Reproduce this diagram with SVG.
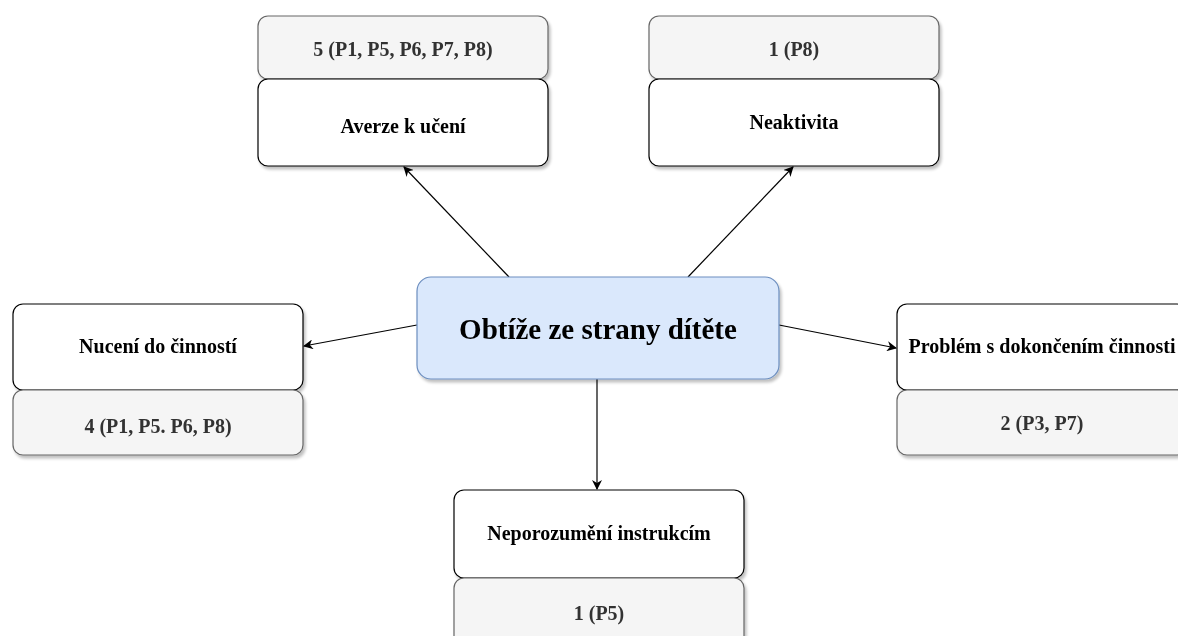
<svg xmlns="http://www.w3.org/2000/svg" width="1178" height="636" viewBox="0 0 1178 636">
  <style>
    .main { fill: #ffffff; stroke: #000000; stroke-width: 1.2; }
    .count { fill: #f5f5f5; stroke: #666666; stroke-width: 1.2; }
    .root { fill: #dae8fc; stroke: #6c8ebf; stroke-width: 1.2; }
    .lbl { font-family: "Liberation Serif", "Times New Roman", serif; font-weight: bold; font-size: 20px; text-anchor: middle; fill: #000000; }
    .cnt { font-family: "Liberation Serif", "Times New Roman", serif; font-weight: bold; font-size: 20px; text-anchor: middle; fill: #333333; }
    .title { font-family: "Liberation Serif", "Times New Roman", serif; font-weight: bold; font-size: 29px; text-anchor: middle; fill: #000000; }
    .edge { stroke: #000000; stroke-width: 1.2; fill: none; marker-end: url(#arrow); }
  </style>
  <defs>
    <filter id="shadow" x="-10%" y="-10%" width="125%" height="130%">
      <feGaussianBlur in="SourceAlpha" stdDeviation="1.5"/>
      <feOffset dx="2" dy="3" result="blur"/>
      <feComponentTransfer><feFuncA type="linear" slope="0.25"/></feComponentTransfer>
      <feMerge><feMergeNode/><feMergeNode in="SourceGraphic"/></feMerge>
    </filter>
    <marker id="arrow" viewBox="0 0 10 10" refX="9" refY="5" markerWidth="10" markerHeight="10" markerUnits="userSpaceOnUse" orient="auto">
      <path d="M0,0 L10,5 L0,10 L3,5 Z" fill="#000000"/>
    </marker>
  </defs>

  <g id="connectors">
    <line class="edge" x1="509" y1="277" x2="404" y2="167"/>
    <line class="edge" x1="688" y1="277" x2="793" y2="167"/>
    <line class="edge" x1="417" y1="325" x2="304" y2="346"/>
    <line class="edge" x1="779" y1="325" x2="896" y2="348"/>
    <line class="edge" x1="597" y1="379" x2="597" y2="489"/>
  </g>

  <g id="averze" filter="url(#shadow)">
    <rect class="count" x="258" y="16" width="290" height="63" rx="10"/>
    <text class="cnt" x="403" y="56">5 (P1, P5, P6, P7, P8)</text>
    <rect class="main" x="258" y="79" width="290" height="87" rx="10"/>
    <text class="lbl" x="403" y="133">Averze k učení</text>
  </g>

  <g id="neaktivita" filter="url(#shadow)">
    <rect class="count" x="649" y="16" width="290" height="63" rx="10"/>
    <text class="cnt" x="794" y="56">1 (P8)</text>
    <rect class="main" x="649" y="79" width="290" height="87" rx="10"/>
    <text class="lbl" x="794" y="129">Neaktivita</text>
  </g>

  <g id="nuceni" filter="url(#shadow)">
    <rect class="main" x="13" y="304" width="290" height="86" rx="10"/>
    <text class="lbl" x="158" y="353">Nucení do činností</text>
    <rect class="count" x="13" y="390" width="290" height="65" rx="10"/>
    <text class="cnt" x="158" y="433">4 (P1, P5. P6, P8)</text>
  </g>

  <g id="problem" filter="url(#shadow)">
    <rect class="main" x="897" y="304" width="290" height="86" rx="10"/>
    <text class="lbl" x="1042" y="353">Problém s dokončením činnosti</text>
    <rect class="count" x="897" y="390" width="290" height="65" rx="10"/>
    <text class="cnt" x="1042" y="430">2 (P3, P7)</text>
  </g>

  <g id="neporozumeni" filter="url(#shadow)">
    <rect class="main" x="454" y="490" width="290" height="88" rx="10"/>
    <text class="lbl" x="599" y="540">Neporozumění instrukcím</text>
    <rect class="count" x="454" y="578" width="290" height="70" rx="10"/>
    <text class="cnt" x="599" y="620">1 (P5)</text>
  </g>

  <g id="root" filter="url(#shadow)">
    <rect class="root" x="417" y="277" width="362" height="102" rx="14"/>
    <text class="title" x="598" y="339">Obtíže ze strany dítěte</text>
  </g>
</svg>
